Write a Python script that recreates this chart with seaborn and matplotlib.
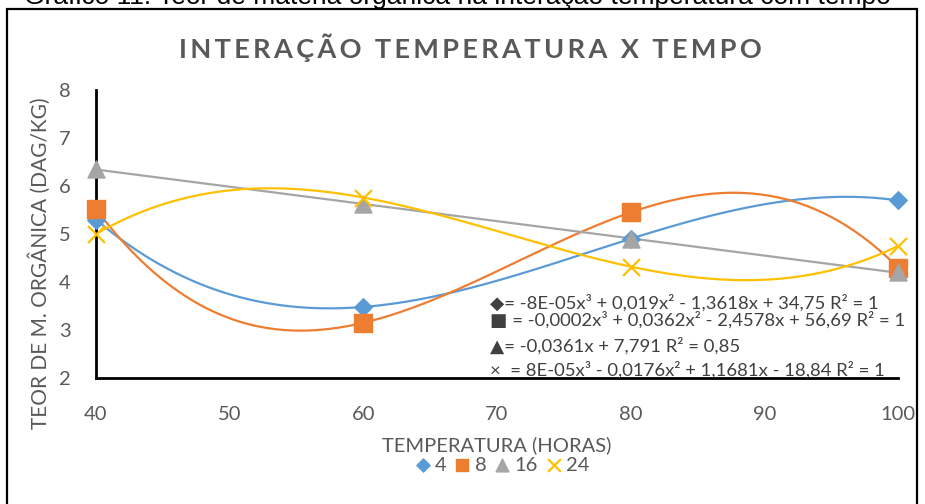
import numpy as np
import pandas as pd
import matplotlib
matplotlib.use("Agg")
import matplotlib.pyplot as plt
from matplotlib.patches import Rectangle
import seaborn as sns

# data
temperatura = [40, 60, 80, 100]
teor_4h = [5.30, 3.48, 4.90, 5.70]
teor_8h = [5.52, 3.15, 5.45, 4.30]
teor_16h = [6.35, 5.62, 4.90, 4.20]
teor_24h = [5.00, 5.76, 4.32, 4.75]
series_names = ["4", "8", "16", "24"]
fit_degree = [3, 3, 1, 3]
equations = [
    "\u25C6= -8E-05x\u00B3 + 0,019x\u00B2 - 1,3618x + 34,75 R\u00B2 = 1",
    "\u25A0 = -0,0002x\u00B3 + 0,0362x\u00B2 - 2,4578x + 56,69 R\u00B2 = 1",
    "\u25B2= -0,0361x + 7,791 R\u00B2 = 0,85",
    "\u00D7  = 8E-05x\u00B3 - 0,0176x\u00B2 + 1,1681x - 18,84 R\u00B2 = 1",
]

colors = ["#5B9BD5", "#ED7D31", "#A5A5A5", "#FFC000"]
markers = ["D", "s", "^", "x"]
msizes = [80, 150, 150, 150]

df = pd.DataFrame({"temp": temperatura * 4,
                   "teor": teor_4h + teor_8h + teor_16h + teor_24h,
                   "serie": np.repeat(series_names, 4)})

sns.set_theme(style="white")
plt.rcParams["font.family"] = ["Lato", "DejaVu Sans"]
txt = "#595959"

fig = plt.figure(figsize=(9.25, 5.04), dpi=100)
ax = fig.add_axes([96 / 925, 1 - 378 / 504, (898 - 96) / 925, (378 - 90) / 504])

# outer frame of the chart
fig.patches.append(Rectangle((7 / 925, -0.05), (917 - 7) / 925, 1.05 - 9 / 504,
                             transform=fig.transFigure, fill=False,
                             edgecolor="black", lw=1.6, zorder=0))

xs = np.linspace(40, 100, 300)
for i, name in enumerate(series_names):
    sub = df[df["serie"] == name]
    coef = np.polyfit(sub["temp"], sub["teor"], fit_degree[i])
    sns.lineplot(x=xs, y=np.polyval(coef, xs), ax=ax, color=colors[i], lw=1.6,
                 zorder=2, clip_on=False)

for i, name in enumerate(series_names):
    sub = df[df["serie"] == name]
    if markers[i] == "x":
        ax.scatter(sub["temp"], sub["teor"], marker="x", s=msizes[i], color=colors[i],
                   linewidths=1.6, zorder=3 + i, clip_on=False, label=name)
    else:
        ax.scatter(sub["temp"], sub["teor"], marker=markers[i], s=msizes[i],
                   color=colors[i], edgecolors=colors[i], zorder=3 + i,
                   clip_on=False, label=name)

ax.set_xlim(40, 100)
ax.set_ylim(2, 8)
ax.set_xticks(range(40, 101, 10))
ax.set_yticks(range(2, 9))
ax.tick_params(axis="x", length=0, pad=20, labelsize=14.5, labelcolor=txt)
ax.tick_params(axis="y", length=0, pad=18, labelsize=14.5, labelcolor=txt)
for s in ["top", "right"]:
    ax.spines[s].set_visible(False)
for s in ["left", "bottom"]:
    ax.spines[s].set_color("black")
    ax.spines[s].set_linewidth(2)
ax.set_facecolor("none")
ax.grid(False)

ax.set_xlabel("TEMPERATURA (HORAS)", fontsize=14.5, color=txt, va="center")
ax.xaxis.set_label_coords(0.5, (378 - 445) / 288)
ax.set_ylabel("TEOR DE M. ORGÂNICA (DAG/KG)", fontsize=15, color=txt, va="center")
ax.yaxis.set_label_coords((40 - 96) / 802, (378 - 263) / 288)

title = "\u2009".join("INTERAÇÃO TEMPERATURA X TEMPO")
fig.text(470 / 925, 1 - 48 / 504, title, ha="center", va="center", fontsize=19.5,
         fontweight="bold", color=txt)

fig.text(457 / 925, 1 - 4 / 504, "Gráfico 11: Teor de matéria orgânica na interação temperatura com tempo",
         ha="center", va="baseline", fontsize=19, color="black",
         family=["Liberation Sans", "DejaVu Sans"])

eq_y = [303, 320, 346, 370]
for e, y in zip(equations, eq_y):
    fig.text(490 / 925, 1 - y / 504, e, ha="left", va="center", fontsize=13.3,
             color="#404040")

fig.legend(loc="center", bbox_to_anchor=(500 / 925, 1 - 465 / 504), ncol=4,
           frameon=False, fontsize=14.5, labelcolor=txt, handletextpad=0.0,
           columnspacing=0.2, handlelength=1.2, markerscale=0.75)

fig.savefig("out.png", dpi=100)
